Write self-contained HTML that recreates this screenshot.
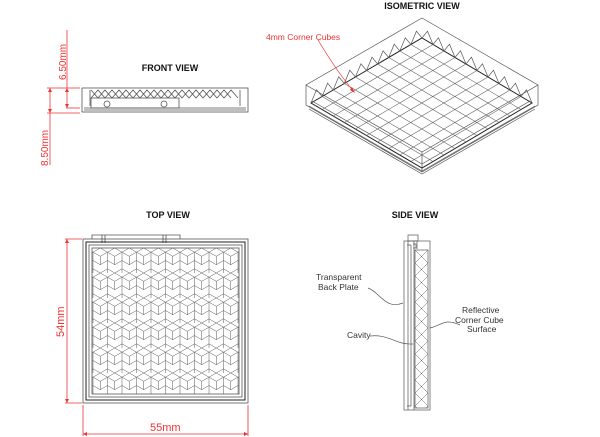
<!DOCTYPE html>
<html><head><meta charset="utf-8"><style>
html,body{margin:0;padding:0;background:#fff;width:600px;height:437px;overflow:hidden}
text{font-family:"Liberation Sans",sans-serif}
</style></head><body>
<svg width="600" height="437" viewBox="0 0 600 437" xmlns="http://www.w3.org/2000/svg">
<defs>
<pattern id="hex" x="93" y="248" width="14.5" height="25" patternUnits="userSpaceOnUse">
<path d="M7.25 0 L14.5 4.2 L14.5 12.5 L7.25 16.7 L0 12.5 L0 4.2 Z M7.25 8.3 L7.25 16.7 M0 4.2 L7.25 8.3 L14.5 4.2 M0 12.5 L0 25 M14.5 12.5 L14.5 25 M0 20.8 L7.25 25 L14.5 20.8" fill="none" stroke="#555" stroke-width="0.5"/>
</pattern>
<pattern id="zz" x="415" y="250" width="13" height="13" patternUnits="userSpaceOnUse">
<path d="M0 0 L13 13 M13 0 L0 13" fill="none" stroke="#666" stroke-width="0.5"/>
</pattern>
</defs>
<g font-weight="bold" font-size="9" fill="#111" text-anchor="middle">
<text x="170" y="71">FRONT VIEW</text>
<text x="422" y="9">ISOMETRIC VIEW</text>
<text x="168" y="218">TOP VIEW</text>
<text x="415" y="218">SIDE VIEW</text>
</g>
<!-- FRONT VIEW -->
<g fill="none" stroke="#555" stroke-width="0.8">
<rect x="82" y="88" width="166" height="24"/>
<line x1="84" y1="108" x2="246" y2="108"/>
<line x1="84" y1="110" x2="246" y2="110"/>
<rect x="91" y="98" width="88" height="10"/>
<path d="M90 90 L90 106 M240 90 L240 106"/>
<path d="M91 90 l7 8 l7 -8 l7 8 l7 -8 l7 8 l7 -8 l7 8 l7 -8 l7 8 l7 -8 l7 8 l7 -8 l7 8 l7 -8 l7 8 l7 -8 l7 8 l7 -8 l7 8 l7 -8 l7 8"/>
<path d="M91 98 l7 -8 l7 8 l7 -8 l7 8 l7 -8 l7 8 l7 -8 l7 8 l7 -8 l7 8 l7 -8 l7 8 l7 -8 l7 8 l7 -8 l7 8 l7 -8 l7 8 l7 -8 l7 8"/>
<circle cx="107" cy="104" r="3"/><circle cx="164" cy="104" r="3"/>
</g>
<g stroke="#e33" stroke-width="0.8" fill="#e33">
<line x1="67" y1="30" x2="67" y2="108"/>
<line x1="50" y1="88" x2="50" y2="114"/>
<line x1="47" y1="88" x2="80" y2="88"/>
<line x1="47" y1="113" x2="80" y2="113"/>
<line x1="66" y1="108" x2="80" y2="108"/>
<line x1="50" y1="114" x2="50" y2="165"/>
<path d="M48 92 L50 88 L52 92Z M48 109 L50 113 L52 109Z M65 92 L67 88 L69 92Z M65 104 L67 108 L69 104Z" stroke="none"/>
</g>
<g fill="#e33" font-size="10">
<text transform="translate(66,80) rotate(-90)">6.50mm</text>
<text transform="translate(48,166) rotate(-90)">8.50mm</text>
</g>
<!-- TOP VIEW -->
<g fill="none" stroke="#555" stroke-width="0.8">
<path d="M92 239 L92 235 L180 235 L180 239"/>
<path d="M102 235 v8 M105 235 v8 M163 235 v8 M166 235 v8"/>
<rect x="83" y="239" width="165" height="164"/>
<rect x="86" y="242" width="159" height="158" stroke="#222" stroke-width="1"/>
<rect x="89" y="245" width="153" height="152"/>
<rect x="92" y="248" width="147" height="146" fill="url(#hex)"/>
</g>
<g stroke="#e33" stroke-width="0.8" fill="#e33">
<line x1="67" y1="239" x2="67" y2="403"/>
<line x1="65" y1="239" x2="82" y2="239"/>
<line x1="65" y1="403" x2="82" y2="403"/>
<line x1="83" y1="405" x2="83" y2="436"/>
<line x1="248" y1="405" x2="248" y2="436"/>
<line x1="83" y1="434" x2="248" y2="434"/>
<path d="M65 243 L67 239 L69 243Z M65 399 L67 403 L69 399Z M87 432 L83 434 L87 436Z M244 432 L248 434 L244 436Z" stroke="none"/>
</g>
<g fill="#e33" font-size="11">
<text transform="translate(64,337) rotate(-90)">54mm</text>
<text x="150" y="431">55mm</text>
</g>
<!-- ISOMETRIC -->
<g fill="none" stroke="#555" stroke-width="0.7">
<path d="M422 18 L538 85 L422 152 L306 85 Z"/>
<path d="M306 85 L306 105 L422 172 L538 105 L538 85 M422 152 L422 172"/>
<path d="M311 103 L422 38 L532 103 L422 168 Z" stroke="#222" stroke-width="1"/>
<path d="M309 106 L422 171 L535 106 M309 109 L422 174 L535 109 M312 101 L422 164 L530 101"/>
<g stroke="#666" stroke-width="0.6">
<path d="M322.1 109.5 L433 44.5 M333.2 116 L444 51 M344.3 122.5 L455 57.5 M355.4 129 L466 64 M366.5 135.5 L477 70.5 M377.6 142 L488 77 M388.7 148.5 L499 83.5 M399.8 155 L510 90 M410.9 161.5 L521 96.5"/>
<path d="M322.1 96.5 L433 161.5 M333.2 90 L444 155 M344.3 83.5 L455 148.5 M355.4 77 L466 142 M366.5 70.5 L477 135.5 M377.6 64 L488 129 M388.7 57.5 L499 122.5 M399.8 51 L510 116 M410.9 44.5 L521 109.5"/>
</g>
<path d="M311 103 L316.5 89.8 L322.1 96.5 L327.6 83.2 L333.2 90 L338.7 76.8 L344.3 83.5 L349.8 70.2 L355.4 77 L360.9 63.8 L366.5 70.5 L372 57.2 L377.6 64 L383.1 50.8 L388.7 57.5 L394.2 44.2 L399.8 51 L405.3 37.8 L410.9 44.5 L416.4 31.2 L422 38 L427.5 31.2 L433 44.5 L438.5 37.8 L444 51 L449.5 44.2 L455 57.5 L460.5 50.8 L466 64 L471.5 57.2 L477 70.5 L482.5 63.8 L488 77 L493.5 70.2 L499 83.5 L504.5 76.8 L510 90 L515.5 83.2 L521 96.5 L526.5 89.8 L532 103"/>
</g>
<g stroke="#e33" stroke-width="0.7" fill="#e33">
<path d="M318 40 C330 60 340 75 354 92" fill="none"/>
<path d="M350 90 L355 93 L352 87Z" stroke="none"/>
</g>
<text x="266" y="40" fill="#e33" font-size="8.5">4mm Corner Cubes</text>
<!-- SIDE VIEW -->
<g fill="none" stroke="#555" stroke-width="0.7">
<rect x="408" y="235" width="10" height="6"/>
<rect x="404" y="241" width="26" height="169"/>
<path d="M408 241 V410 M411 245 V406 M407 245 H411 M407 406 H411 M414 241 V410"/>
<path d="M413 244 h3 v4 h-3 M417 241 v8"/>
<rect x="415" y="250" width="13" height="158" fill="url(#zz)"/>
<path d="M368 288 C380 292 385 310 403 303 M370 336 C390 334 395 345 413 344 M460 325 C445 318 442 325 430 328"/>
</g>
<g font-size="8.5" fill="#333">
<text x="316" y="280">Transparent</text>
<text x="318" y="290">Back Plate</text>
<text x="347" y="338">Cavity</text>
<text x="462" y="313">Reflective</text>
<text x="455" y="323">Corner Cube</text>
<text x="467" y="332">Surface</text>
</g>
</svg>
</body></html>
